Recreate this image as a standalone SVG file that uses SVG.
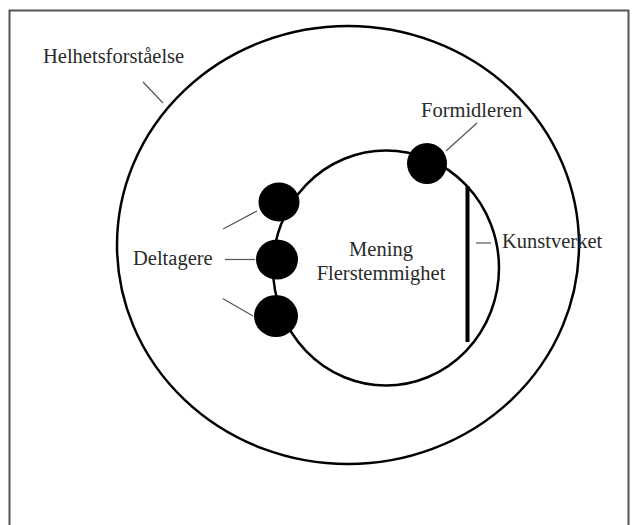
<svg xmlns="http://www.w3.org/2000/svg" width="637" height="525" viewBox="0 0 637 525">
<style>
.lbl{font-family:"Liberation Serif","Times New Roman",serif;font-size:20.5px;fill:#2a2a2a}
.ring{fill:none;stroke:#000;stroke-width:2.5}
.ptr{stroke:#555;stroke-width:1.2;fill:none}
.dot{fill:#000}
</style>
<rect width="637" height="525" fill="#fff"/>
<path d="M9.5,525 V10.5 H628.5 V525" fill="none" stroke="#555" stroke-width="2"/>
<g id="outer-circle"><ellipse class="ring" cx="348" cy="245" rx="231" ry="219"/></g>
<g id="inner-circle"><ellipse class="ring" cx="386" cy="268" rx="113" ry="117.5"/></g>
<g id="kunstverket-bar"><line x1="467.5" y1="186" x2="467.5" y2="342" stroke="#000" stroke-width="4"/></g>
<g id="connectors">
<line class="ptr" x1="143" y1="82" x2="163" y2="103"/>
<line class="ptr" x1="477" y1="123" x2="446" y2="151"/>
<line class="ptr" x1="476" y1="243" x2="491" y2="243"/>
<line class="ptr" x1="223" y1="229" x2="257" y2="211"/>
<line class="ptr" x1="225" y1="259.5" x2="255" y2="259.5"/>
<line class="ptr" x1="222.7" y1="298.5" x2="253" y2="316"/>
</g>
<g id="dot-deltager-1"><ellipse class="dot" cx="279" cy="202" rx="20.5" ry="19.5"/></g>
<g id="dot-deltager-2"><ellipse class="dot" cx="277" cy="259.5" rx="21" ry="20"/></g>
<g id="dot-deltager-3"><ellipse class="dot" cx="276" cy="316" rx="22" ry="21"/></g>
<g id="dot-formidleren"><ellipse class="dot" cx="427" cy="163.5" rx="20" ry="20.5"/></g>
<g id="label-helhet"><text class="lbl" x="43" y="63">Helhetsforståelse</text></g>
<g id="label-formidleren"><text class="lbl" x="421" y="117">Formidleren</text></g>
<g id="label-kunstverket"><text class="lbl" x="502" y="248">Kunstverket</text></g>
<g id="label-deltagere"><text class="lbl" x="133" y="265">Deltagere</text></g>
<g id="label-center"><text class="lbl" x="381" y="256" text-anchor="middle">Mening</text><text class="lbl" x="381" y="280" text-anchor="middle">Flerstemmighet</text></g>
</svg>
